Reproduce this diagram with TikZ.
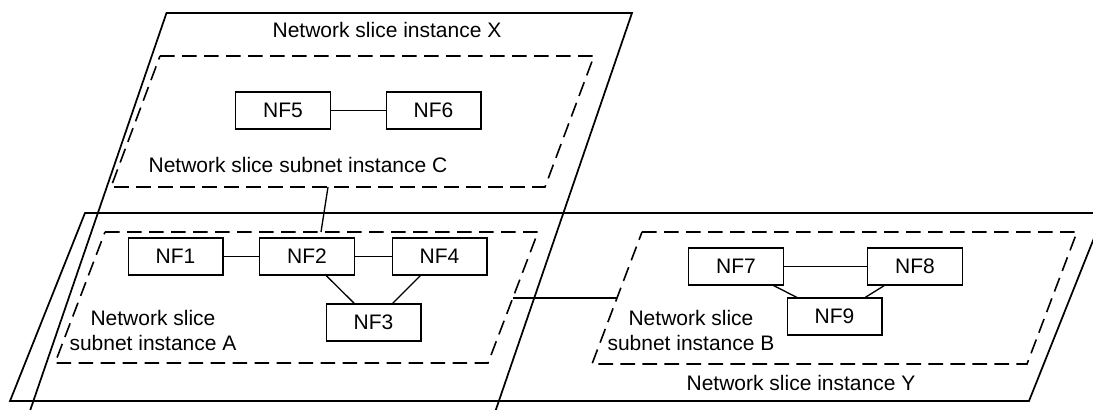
\documentclass[tikz,border=0pt]{standalone}
\usepackage{fontspec}
\setmainfont{Liberation Sans}
\tikzset{
  txt/.style={inner sep=0pt, font=\fontsize{15.75}{18.75}\selectfont},
  nfbox/.style={draw, line width=1pt, minimum width=71pt, minimum height=27.75pt, inner sep=0pt, font=\fontsize{15.75}{18.75}\selectfont},
  subnet/.style={line width=1.2pt, dash pattern=on 11pt off 5.5pt},
  link/.style={line width=1pt}
}
\begin{document}
\begin{tikzpicture}[x=0.75pt,y=-0.75pt,line width=1.3pt]
  \useasboundingbox (0,0) rectangle (1093,410);
  \clip (0,0) rectangle (1093,410);
  \draw (29.6,412) -- (166.5,13) -- (632,13) -- (495.1,412);
  \draw (85,213) -- (1104,213) -- (1029,401) -- (10,401) -- cycle;
  \draw[subnet] (160,56) -- (594,56) -- (545,187) -- (111,187) -- cycle;
  \draw[subnet] (105,232) -- (538,232) -- (488,363) -- (55,363) -- cycle;
  \draw[subnet] (642,232) -- (1077,232) -- (1027,364) -- (592,364) -- cycle;
  \node[txt] (xlabel) at (387,30) {Network slice instance X};
  \node[txt] (ylabel) at (801,383) {Network slice instance Y};
  \node[txt] (clabel) at (298,165) {Network slice subnet instance C};
  \node[txt, align=center] (alabel) at (153,330) {Network slice\\subnet instance A};
  \node[txt, align=center] (blabel) at (691,330) {Network slice\\subnet instance B};
  \node[nfbox] (nf5) at (283,110.5) {NF5};
  \node[nfbox] (nf6) at (433.5,110.5) {NF6};
  \node[nfbox] (nf1) at (175.5,256.5) {NF1};
  \node[nfbox] (nf2) at (307,256.5) {NF2};
  \node[nfbox] (nf4) at (439.5,256.5) {NF4};
  \node[nfbox] (nf3) at (373.5,322.5) {NF3};
  \node[nfbox] (nf7) at (736,266.5) {NF7};
  \node[nfbox] (nf8) at (915,266.5) {NF8};
  \node[nfbox] (nf9) at (834.5,316.5) {NF9};
  \coordinate (cbot) at (328,187);
  \coordinate (atop) at (321,232);
  \coordinate (aright) at (513,298);
  \coordinate (bleft) at (617,298);
  \draw[link] (nf5) -- (nf6);
  \draw[link] (nf1) -- (nf2);
  \draw[link] (nf2) -- (nf4);
  \draw[link] (nf2) -- (nf3);
  \draw[link] (nf4) -- (nf3);
  \draw[link] (nf7) -- (nf8);
  \draw[link] (nf7) -- (nf9);
  \draw[link] (nf8) -- (nf9);
  \draw[link] (cbot) -- (atop);
  \draw[link] (aright) -- (bleft);
\end{tikzpicture}
\end{document}
